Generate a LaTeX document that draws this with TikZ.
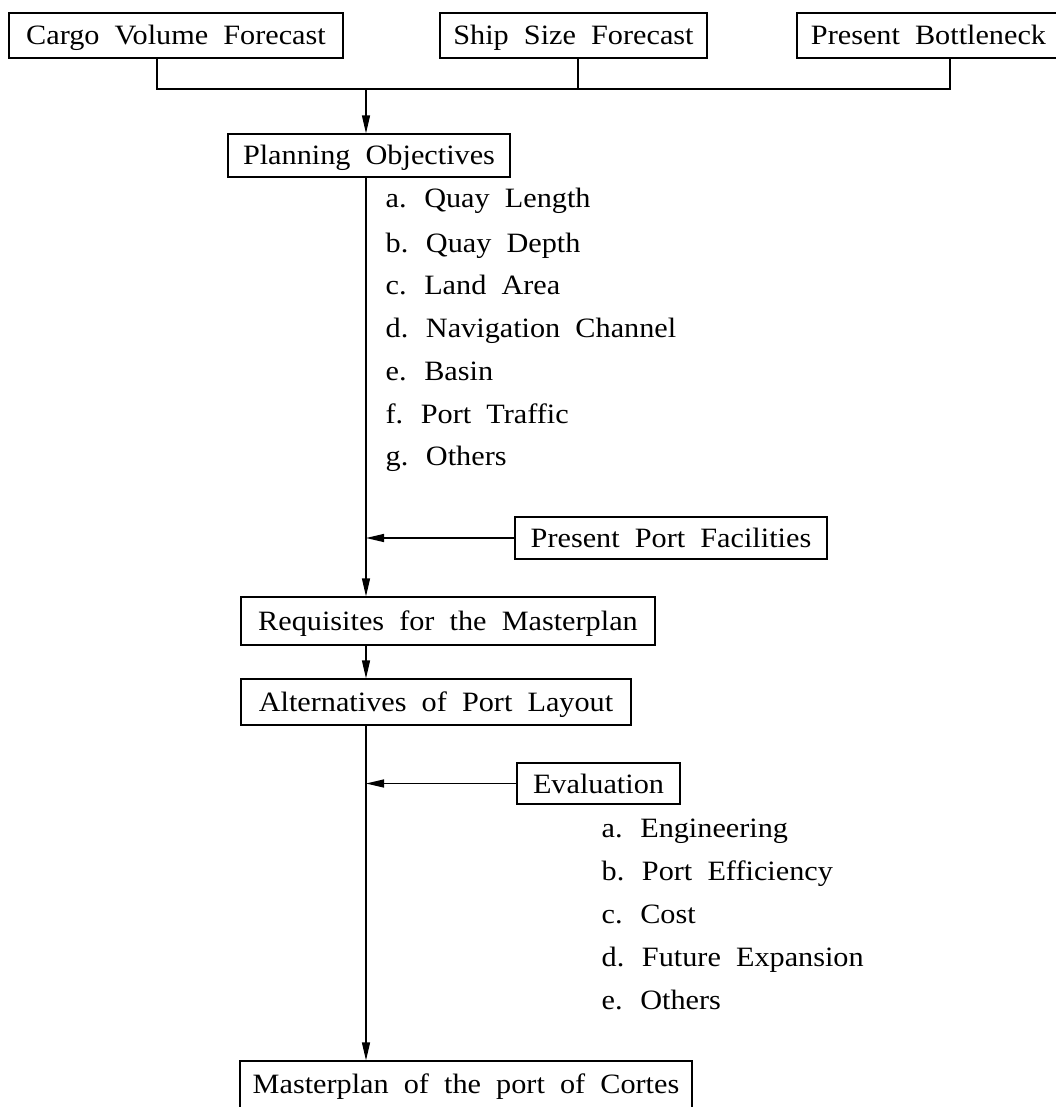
\documentclass[tikz,border=0pt]{standalone}
\usepackage{fontspec}
\setmainfont{Liberation Serif}[FakeStretch=1.08,WordSpace=2]
\usetikzlibrary{arrows.meta}
\begin{document}
\begin{tikzpicture}[x=1pt,y=-1pt,line width=1.3pt,
  box/.style={draw,line width=1.2pt,inner sep=0pt,text height=19pt,text depth=0pt,font=\fontsize{28}{34}\selectfont},
  item/.style={anchor=base west,inner sep=0pt,font=\fontsize{28}{34}\selectfont},
  arr/.style={-{Triangle[length=18pt,width=8pt]}}]
\useasboundingbox (0,0) rectangle (1056,1107);
\clip (0,0) rectangle (1056,1107);
% top boxes
\node[box,minimum width=334pt,minimum height=45pt] (cargo) at (176,35.5) {Cargo Volume Forecast};
\node[box,minimum width=267pt,minimum height=45pt] (ship) at (573.5,35.5) {Ship Size Forecast};
\node[box,minimum width=263pt,minimum height=45pt] (bott) at (928.5,35.5) {Present Bottleneck};
% main chain
\node[box,minimum width=282pt,minimum height=43pt] (plan) at (369,155.5) {Planning Objectives};
\node[item] (pa) at (385,208) {a. Quay Length};
\node[item] (pb) at (385,252) {b. Quay Depth};
\node[item] (pc) at (385,294) {c. Land Area};
\node[item] (pd) at (385,337) {d. Navigation Channel};
\node[item] (pe) at (385,380) {e. Basin};
\node[item] (pf) at (385,423) {f. Port Traffic};
\node[item] (pg) at (385,465) {g. Others};
\node[box,minimum width=312pt,minimum height=42pt] (ppf) at (671,538) {Present Port Facilities};
\node[box,minimum width=414pt,minimum height=48pt] (req) at (448,621) {Requisites for the Masterplan};
\node[box,minimum width=390pt,minimum height=46pt] (alt) at (436,702) {Alternatives of Port Layout};
\node[box,minimum width=163pt,minimum height=41pt] (eval) at (598.5,783.5) {Evaluation};
\node[item] (ea) at (601,837) {a. Engineering};
\node[item] (eb) at (601,880) {b. Port Efficiency};
\node[item] (ec) at (601,923) {c. Cost};
\node[item] (ed) at (601,966) {d. Future Expansion};
\node[item] (ee) at (601,1009) {e. Others};
\node[box,text depth=6pt,minimum width=452pt,minimum height=52pt] (master) at (466,1087) {Masterplan of the port of Cortes};
% connectors
\coordinate (j) at (366,89);
\coordinate (d1) at (157,89);
\coordinate (d2) at (578,89);
\coordinate (d3) at (950,89);
\draw (cargo.south -| d1) -- (d1) -- (d3) -- (bott.south -| d3);
\draw (ship.south -| d2) -- (d2);
\draw[arr] (j) -- (plan.north -| j);
\draw[arr] (plan.south -| j) -- (req.north -| j);
\draw[arr] (ppf.west) -- (ppf.west -| j);
\draw[arr] (req.south -| j) -- (alt.north -| j);
\draw[arr] (alt.south -| j) -- (master.north -| j);
\draw[arr] (eval.west) -- (eval.west -| j);
\end{tikzpicture}
\end{document}
